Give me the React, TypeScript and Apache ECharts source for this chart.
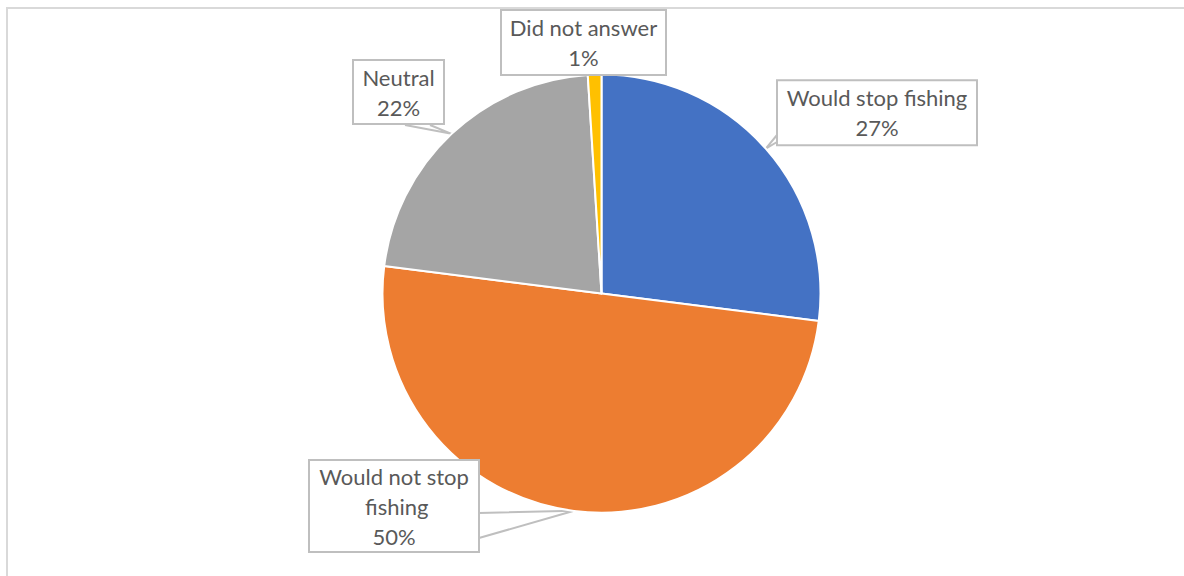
import React, { useEffect, useRef } from "react";
import * as echarts from "echarts";

const categories = ["Would stop fishing", "Would not stop fishing", "Neutral", "Did not answer"];
const values = [27, 50, 22, 1];
const colors = ["#4472C4", "#ED7D31", "#A5A5A5", "#FFC000"];

// label box geometry (page pixels): center x, center y, width, height
const boxes = [
  { cx: 877, cy: 112.7, w: 200, h: 67 },
  { cx: 394, cy: 506, w: 170, h: 94 },
  { cx: 398.5, cy: 92, w: 91, h: 66 },
  { cx: 583.5, cy: 42.5, w: 165, h: 67 },
];
// wedge base points (page pixels)
const wedgeBases: (number[][] | null)[] = [
  [[777, 135], [777, 142]],
  [[479, 538], [479, 513]],
  [[405, 125], [430, 125]],
  null,
];

export default function App() {
  const ref = useRef<HTMLDivElement>(null);
  useEffect(() => {
    if (!ref.current) return;
    const chart = echarts.init(ref.current, undefined, { renderer: "svg" });
    const data = categories.map((name, i) => ({
      name,
      value: values[i],
      itemStyle: { color: colors[i] },
      label: {
        width: boxes[i].w - 16,
        height: boxes[i].h - 8,
        overflow: "break" as const,
      },
      labelLine: { show: wedgeBases[i] !== null },
    }));
    chart.setOption({
      animation: false,
      graphic: [
        {
          type: "rect",
          silent: true,
          shape: { x: 7, y: 8, width: 2000, height: 2000 },
          style: { fill: "none", stroke: "#d9d9d9", lineWidth: 2 },
        },
      ],
      series: [
        {
          type: "pie",
          center: [601.5, 293.5],
          radius: 219,
          startAngle: 90,
          clockwise: true,
          silent: true,
          emphasis: { disabled: true },
          itemStyle: { borderColor: "#fff", borderWidth: 2 },
          label: {
            show: true,
            formatter: "{b}\n{d}%",
            color: "#595959",
            fontFamily: "Lato",
            fontSize: 22,
            lineHeight: 30,
            align: "center",
            verticalAlign: "middle",
            backgroundColor: "#fff",
            borderColor: "#bfbfbf",
            borderWidth: 2,
            padding: [2, 7],
          },
          labelLine: {
            show: true,
            lineStyle: { color: "#bfbfbf", width: 2 },
          },
          labelLayout: (params: any) => {
            const i = params.dataIndex;
            const b = boxes[i];
            const res: any = { x: b.cx, y: b.cy, align: "center", verticalAlign: "middle" };
            const wb = wedgeBases[i];
            if (wb && params.labelLinePoints && params.labelLinePoints[0]) {
              const tip = params.labelLinePoints[0];
              res.labelLinePoints = [wb[0], [tip[0], tip[1]], wb[1]];
            }
            return res;
          },
          data,
        },
      ],
    });
    return () => chart.dispose();
  }, []);
  return (
    <div
      ref={ref}
      style={{ position: "absolute", left: 0, top: 0, width: 1184, height: 576 }}
    />
  );
}
